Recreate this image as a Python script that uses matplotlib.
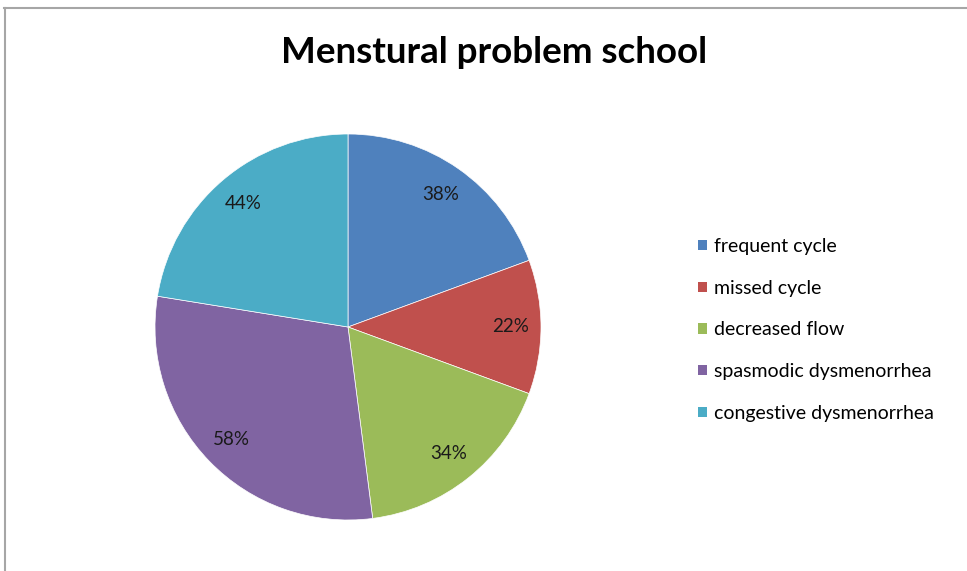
import matplotlib.pyplot as plt
from matplotlib.lines import Line2D
from matplotlib.patches import Patch

categories = ['frequent cycle', 'missed cycle', 'decreased flow',
              'spasmodic dysmenorrhea', 'congestive dysmenorrhea']
values = [38, 22, 34, 58, 44]
colors = ['#4F81BD', '#C0504D', '#9BBB59', '#8064A2', '#4BACC6']

plt.rcParams['font.family'] = ['Lato', 'DejaVu Sans']

W, H = 967, 571
fig = plt.figure(figsize=(W / 100, H / 100), dpi=100)

# chart border (only top and left visible in the crop)
fig.add_artist(Line2D([4 / W, 1], [1 - 8 / H, 1 - 8 / H], color='#a6a6a6', lw=1.5))
fig.add_artist(Line2D([5 / W, 5 / W], [0, 1 - 8 / H], color='#a6a6a6', lw=1.5))

cx, cy, r = 348, 327, 193
ax = fig.add_axes([(cx - r) / W, 1 - (cy + r) / H, 2 * r / W, 2 * r / H])

total = sum(values)
wedges, texts, autotexts = ax.pie(
    values, colors=colors, startangle=90, counterclock=False,
    autopct=lambda p: f'{round(p * total / 100)}%', pctdistance=0.84,
    wedgeprops=dict(edgecolor='white', linewidth=0.5),
    textprops=dict(fontsize=13.5, color='#1a1a1a'))
ax.set_xlim(-1, 1)
ax.set_ylim(-1, 1)

fig.text(494 / W, 1 - 63 / H, 'Menstural problem school', ha='center', va='baseline',
         fontsize=26.5, fontweight='bold', color='black')

handles = [Patch(facecolor=c, edgecolor='none') for c in colors]
fig.legend(handles, categories, loc='upper left', bbox_to_anchor=(698 / W, 1 - 238 / H),
           frameon=False, fontsize=14, handlelength=0.45, handleheight=0.45,
           handletextpad=0.35, labelspacing=1.27, borderaxespad=0, borderpad=0)

fig.savefig('out.png', dpi=100)
